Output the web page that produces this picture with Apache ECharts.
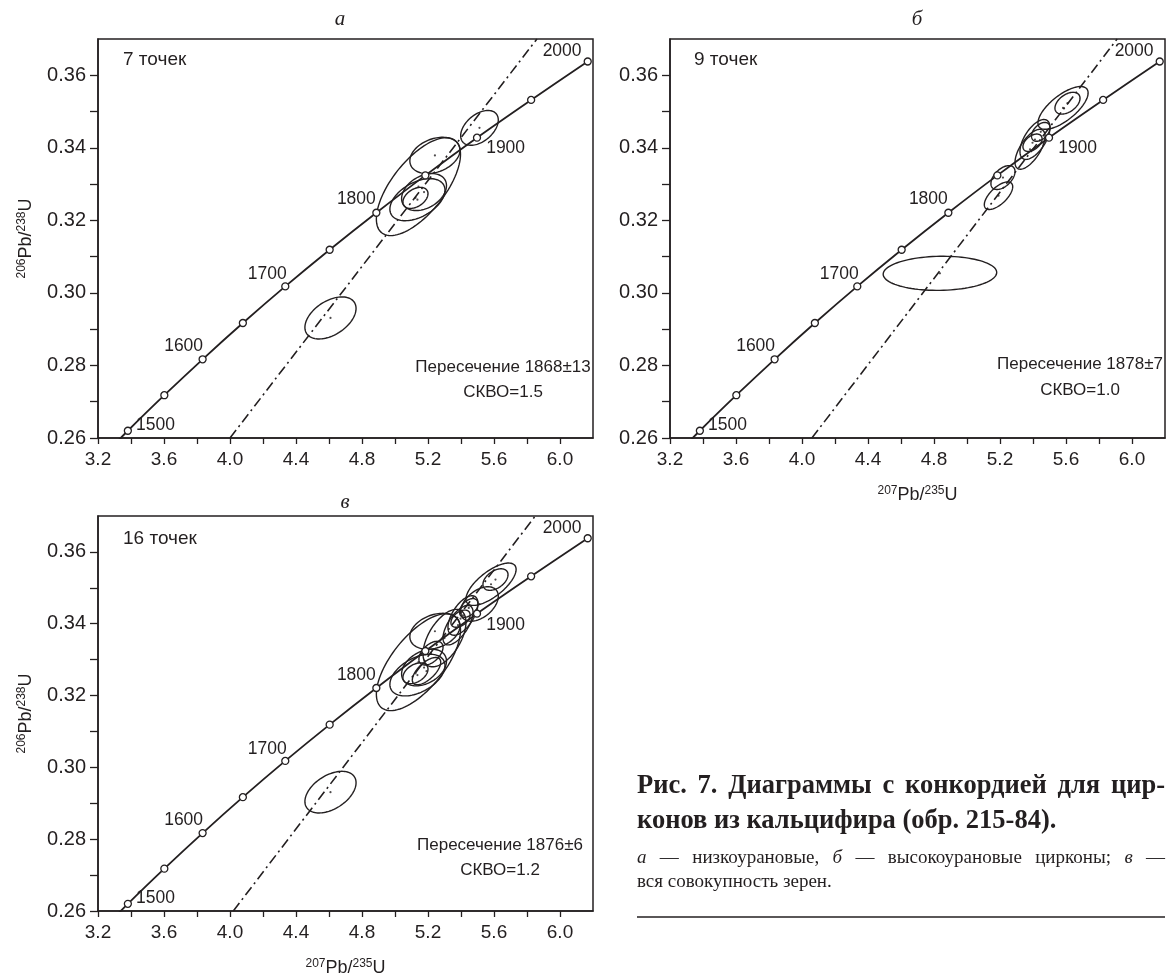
<!DOCTYPE html>
<html><head><meta charset="utf-8">
<script src="https://cdn.jsdelivr.net/npm/echarts@6/dist/echarts.min.js"></script>
<style>html,body{margin:0;padding:0;background:#fff;}#c{width:1166px;height:979px;}</style>
</head><body><div id="c"></div>
<script>
// ---------- data ----------
const concAges = [1450,1500,1550,1600,1650,1700,1750,1800,1850,1900,1950,2000];
const concX = [3.170,3.381,3.602,3.834,4.078,4.335,4.604,4.887,5.184,5.497,5.825,6.168];
const concY = [0.2522,0.2620,0.2718,0.2817,0.2917,0.3018,0.3119,0.3221,0.3324,0.3428,0.3532,0.3638];
const labeledAges = [1500,1600,1700,1800,1900,2000];
const xTickLabels = [3.2,3.6,4.0,4.4,4.8,5.2,5.6,6.0];
const yTickLabels = [0.26,0.28,0.30,0.32,0.34,0.36];
// ellipses: [centre 207Pb/235U, centre 206Pb/238U, half-width x, half-height y, correlation]
const ellipsesA = [
  [4.609,0.2931,0.155,0.0058,0.45],
  [5.512,0.3455,0.114,0.0048,0.45],
  [5.142,0.3293,0.255,0.0135,0.66],
  [5.242,0.3379,0.152,0.0050,0.30],
  [5.176,0.3278,0.136,0.0051,0.35],
  [5.136,0.3257,0.167,0.0058,0.45],
  [5.124,0.3262,0.076,0.0029,0.40]
];
const ellipsesB = [
  [4.836,0.3054,0.344,0.0047,0.05],
  [5.191,0.3268,0.086,0.0038,0.65],
  [5.218,0.3318,0.073,0.0033,0.50],
  [5.382,0.3396,0.091,0.0055,0.65],
  [5.412,0.3423,0.091,0.0055,0.60],
  [5.447,0.3444,0.056,0.0026,0.45],
  [5.397,0.3414,0.058,0.0024,0.45],
  [5.582,0.3510,0.152,0.0059,0.70],
  [5.609,0.3523,0.076,0.0030,0.45]
];
const ellipsesC = [
  [4.609,0.2931,0.155,0.0058,0.45],
  [5.142,0.3293,0.255,0.0135,0.66],
  [5.242,0.3379,0.152,0.0050,0.30],
  [5.176,0.3278,0.136,0.0051,0.35],
  [5.136,0.3257,0.167,0.0058,0.45],
  [5.124,0.3262,0.076,0.0029,0.40],
  [5.512,0.3455,0.114,0.0048,0.45],
  [5.191,0.3268,0.086,0.0038,0.65],
  [5.218,0.3318,0.073,0.0033,0.50],
  [5.382,0.3396,0.091,0.0055,0.65],
  [5.412,0.3423,0.091,0.0055,0.60],
  [5.447,0.3444,0.056,0.0026,0.45],
  [5.397,0.3414,0.058,0.0024,0.45],
  [5.582,0.3510,0.152,0.0059,0.70],
  [5.609,0.3523,0.076,0.0030,0.45],
  [5.300,0.3360,0.130,0.0080,0.55]
];
const discordA = [[4.00,0.26],[5.86,0.37]];
const discordB = [[4.06,0.26],[5.91,0.37]];
const discordC = [[4.02,0.26],[5.85,0.37]];
const panelTitles = ['а','б','в'];
const countTexts = ['7 точек','9 точек','16 точек'];
const interceptTexts = ['Пересечение 1868±13','Пересечение 1878±7','Пересечение 1876±6'];
const mswdTexts = ['СКВО=1.5','СКВО=1.0','СКВО=1.2'];
const xName = '{sup|207}Pb/{sup|235}U';
const yName = '{sup|206}Pb/{sup|238}U';

// ---------- layout / style ----------
const INK = '#231f20';
const SANS = '"Liberation Sans", Arial, sans-serif';
const SERIF = '"Liberation Serif", "Times New Roman", serif';
const grids = [
  {left:98, top:39, width:495, height:399},
  {left:670, top:39, width:495, height:399},
  {left:98, top:516, width:495, height:398}
];
const showXName = [false,true,true];
const showYName = [true,false,true];
const ellSets = [ellipsesA, ellipsesB, ellipsesC];
const discSets = [discordA, discordB, discordC];

const labelCfg = {
  1500:{position:'right', offset:[-1,-6]},
  1600:{position:'top', offset:[-19,5]},
  1700:{position:'top', offset:[-18,6]},
  1800:{position:'top', offset:[-20,5]},
  1900:{position:'right', offset:[0,11]},
  2000:{position:'left', offset:[3,-10]}
};

const richSup = {
  sup:{fontSize:12, verticalAlign:'top', lineHeight:20, fontFamily:SANS, color:INK},
};

function near(list, v){ return list.some(t => Math.abs(t - v) < 1e-6); }

function renderEllipse(params, api){
  const cx=api.value(0), cy=api.value(1), sx=api.value(2), sy=api.value(3), r=api.value(4);
  const k=Math.sqrt(1-r*r);
  const pts=[];
  for(let i=0;i<96;i++){
    const t=i/96*2*Math.PI;
    pts.push(api.coord([cx+sx*Math.cos(t), cy+sy*(r*Math.cos(t)+k*Math.sin(t))]));
  }
  return {type:'polygon', shape:{points:pts}, style:{fill:null, stroke:INK, lineWidth:1.4}};
}

const concData = concAges.map((a,i)=>{
  const item = {value:[concX[i],concY[i]]};
  if (a === 1450) item.symbol = 'none';
  if (labeledAges.includes(a)) {
    item.label = Object.assign({show:true, formatter:String(a), fontSize:17.5, fontFamily:SANS, color:INK}, labelCfg[a]);
  }
  return item;
});

const xAxes=[], yAxes=[], series=[];
grids.forEach((g,i)=>{
  xAxes.push({
    gridIndex:i, type:'value', min:3.2, max:6.2, interval:0.2,
    axisLine:{show:true, onZero:false, lineStyle:{color:INK, width:1.5}},
    axisTick:{show:true, inside:false, length:6, lineStyle:{color:INK, width:1.3}},
    splitLine:{show:false},
    axisLabel:{margin:12, fontSize:19, fontFamily:SANS, color:INK, showMaxLabel:false,
      formatter:v=> near(xTickLabels, v) ? v.toFixed(1) : ''},
    name: showXName[i] ? xName : '', nameLocation:'middle', nameGap:47,
    nameTextStyle:{fontSize:18, fontFamily:SANS, color:INK, lineHeight:20, rich:richSup}
  });
  yAxes.push({
    gridIndex:i, type:'value', min:0.26, max:0.37, interval:0.01,
    axisLine:{show:true, onZero:false, lineStyle:{color:INK, width:1.5}},
    axisTick:{show:true, inside:false, length:8, lineStyle:{color:INK, width:1.3}},
    splitLine:{show:false},
    axisLabel:{margin:12, fontSize:20, fontFamily:SANS, color:INK, showMaxLabel:false,
      formatter:v=> near(yTickLabels, v) ? v.toFixed(2) : ''},
    name: showYName[i] ? yName : '', nameLocation:'middle', nameGap:62, nameRotate:90,
    nameTextStyle:{fontSize:18, fontFamily:SANS, color:INK, lineHeight:20, rich:richSup}
  });
  series.push({
    type:'line', xAxisIndex:i, yAxisIndex:i, data:discSets[i], symbol:'none', silent:true,
    lineStyle:{color:INK, width:1.6, type:[10,4,2,4]}, z:2
  });
  series.push({
    type:'custom', xAxisIndex:i, yAxisIndex:i, data:ellSets[i], renderItem:renderEllipse,
    encode:{x:0, y:1}, clip:true, silent:true, z:3
  });
  series.push({
    type:'scatter', xAxisIndex:i, yAxisIndex:i, data:ellSets[i].map(e=>[e[0],e[1]]),
    symbolSize:2.2, itemStyle:{color:INK}, silent:true, z:3
  });
  series.push({
    type:'line', xAxisIndex:i, yAxisIndex:i, data:concData, smooth:0.3,
    symbol:'circle', symbolSize:7, showAllSymbol:true, silent:true,
    lineStyle:{color:INK, width:1.8},
    itemStyle:{color:'#fff', borderColor:INK, borderWidth:1.3}, z:5
  });
});

// ---------- graphic texts ----------
const graphic = [];
function txt(x,y,text,font,align){
  graphic.push({type:'text', x:x, y:y, silent:true,
    style:{text:text, font:font, fill:INK, textAlign:align||'left', textVerticalAlign:'middle', align:align||'left', verticalAlign:'middle'}});
}
const titlePos = [[340,19],[917,19],[345,502]];
titlePos.forEach((p,i)=>txt(p[0],p[1],panelTitles[i],'italic 21px '+SERIF,'center'));
const countPos = [[123,60],[694,60],[123,539]];
countPos.forEach((p,i)=>txt(p[0],p[1],countTexts[i],'19px '+SANS,'left'));
const interPos = [[503,367,392],[1080,364,390],[500,845,870]];
interPos.forEach((p,i)=>{
  txt(p[0],p[1],interceptTexts[i],'17px '+SANS,'center');
  txt(p[0],p[2],mswdTexts[i],'17px '+SANS,'center');
});

// caption (justified lines)
const mctx = document.createElement('canvas').getContext('2d');
function justify(words, x0, x1, y){
  const w = words.map(o=>{mctx.font=o.font; return mctx.measureText(o.t).width;});
  const sum = w.reduce((a,b)=>a+b,0);
  const gap = (x1-x0-sum)/(words.length-1);
  let x = x0;
  words.forEach((o,i)=>{ txt(x,y,o.t,o.font,'left'); x += w[i]+gap; });
}
const BOLD = 'bold 26.5px '+SERIF, REG = '19px '+SERIF, IT = 'italic 19px '+SERIF;
justify('Рис. 7. Диаграммы с конкордией для цир-'.split(' ').map(t=>({t:t,font:BOLD})), 637, 1165, 786);
txt(637,821,'конов из кальцифира (обр. 215-84).',BOLD,'left');
justify([
  {t:'а',font:IT},{t:'—',font:REG},{t:'низкоурановые,',font:REG},
  {t:'б',font:IT},{t:'—',font:REG},{t:'высокоурановые',font:REG},{t:'цирконы;',font:REG},
  {t:'в',font:IT},{t:'—',font:REG}
], 637, 1165, 858);
txt(637,882,'вся совокупность зерен.',REG,'left');
graphic.push({type:'line', silent:true, shape:{x1:637,y1:917,x2:1165,y2:917}, style:{stroke:INK, lineWidth:1.3}});

const chart = echarts.init(document.getElementById('c'), null, {renderer:'canvas'});
chart.setOption({
  backgroundColor:'#fff',
  animation:false,
  grid: grids.map(g=>Object.assign({show:true, borderColor:INK, borderWidth:1.5, backgroundColor:'transparent'}, g)),
  xAxis:xAxes, yAxis:yAxes, series:series, graphic:graphic
});
</script></body></html>
